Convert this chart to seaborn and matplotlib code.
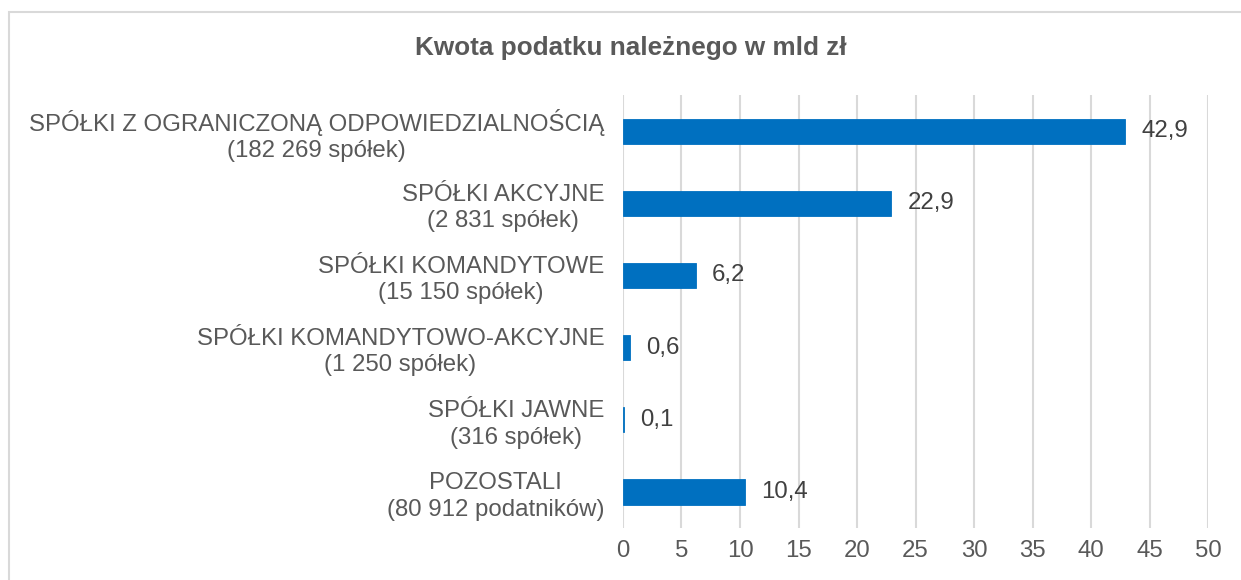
import matplotlib
matplotlib.use("Agg")
import matplotlib.pyplot as plt
import seaborn as sns
import pandas as pd
from matplotlib.patches import Rectangle

# dane
kategorie = [
    "SPÓŁKI Z OGRANICZONĄ ODPOWIEDZIALNOŚCIĄ\n(182 269 spółek)",
    "SPÓŁKI AKCYJNE\n(2 831 spółek)",
    "SPÓŁKI KOMANDYTOWE\n(15 150 spółek)",
    "SPÓŁKI KOMANDYTOWO-AKCYJNE\n(1 250 spółek)",
    "SPÓŁKI JAWNE\n(316 spółek)",
    "POZOSTALI\n(80 912 podatników)",
]
kwoty = [42.9, 22.9, 6.2, 0.6, 0.1, 10.4]
ticki_x = [0, 5, 10, 15, 20, 25, 30, 35, 40, 45, 50]
tytul = "Kwota podatku należnego w mld zł"

NIEBIESKI = "#0070C0"
SZARY_TXT = "#595959"
SZARY_SIATKA = "#D9D9D9"
ROZMIAR = 17.3

sns.set_style("white")
plt.rcParams["font.family"] = ["Liberation Sans", "DejaVu Sans"]

df = pd.DataFrame({"Kategoria": kategorie, "Kwota": kwoty})

fig = plt.figure(figsize=(12.41, 5.8), dpi=100)
ax = fig.add_axes([0.502, 0.0897, 0.4715, 0.7463])

sns.barplot(data=df, x="Kwota", y="Kategoria", orient="h", color=NIEBIESKI,
            width=0.35, saturation=1, ax=ax, zorder=3,
            edgecolor=NIEBIESKI, linewidth=0.6)

ax.set_xlim(0, 50)
ax.set_xticks(ticki_x)
ax.set_xticklabels([str(t) for t in ticki_x])
ax.set_ylim(len(kategorie) - 0.5, -0.5)
ax.set_xlabel("")
ax.set_ylabel("")

ax.grid(axis="x", color=SZARY_SIATKA, linewidth=1.5, zorder=0)
ax.grid(axis="y", visible=False)
for s in ax.spines.values():
    s.set_visible(False)

ax.tick_params(axis="both", length=0, labelsize=ROZMIAR, labelcolor=SZARY_TXT)
ax.tick_params(axis="y", pad=13.5)
ax.tick_params(axis="x", pad=9)
for lbl in ax.get_yticklabels():
    lbl.set_multialignment("center")
    lbl.set_linespacing(1.25)

for i, v in enumerate(kwoty):
    ax.text(v + 1.4, i, f"{v:.1f}".replace(".", ","), va="center", ha="left",
            fontsize=ROZMIAR, color="#404040", zorder=5)

fig.text(0.508, 0.917, tytul, ha="center", va="center", fontsize=18.8,
         fontweight="bold", color=SZARY_TXT)

# ramka wykresu (przycięta z prawej i u dołu)
fig.patches.append(Rectangle((0.0073, -0.1), 1.1, 1.0793,
                             transform=fig.transFigure, fill=False,
                             edgecolor=SZARY_SIATKA, linewidth=1.5))

fig.savefig("out.png", dpi=100, facecolor="white")
